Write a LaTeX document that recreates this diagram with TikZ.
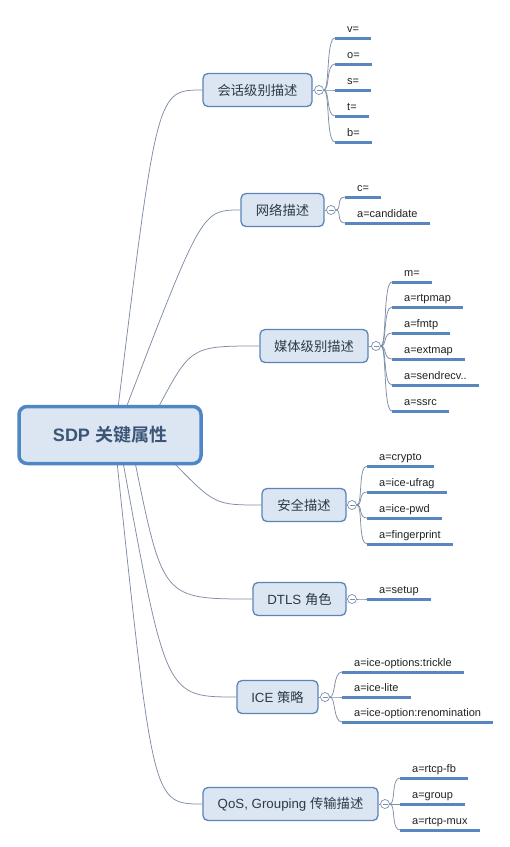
\documentclass[tikz,border=0pt]{standalone}
\usepackage{fontspec}
\setmainfont{Liberation Sans}
\newfontfamily\cjk{Noto Sans CJK SC}[BoldFont={Noto Sans CJK SC Bold}]
\usetikzlibrary{calc}
\definecolor{topicfill}{HTML}{DCE6F2}
\definecolor{topicdraw}{HTML}{5B84B8}
\definecolor{rootdraw}{HTML}{4F86C6}
\definecolor{roottext}{HTML}{3B5577}
\definecolor{topictext}{HTML}{2E3A48}
\definecolor{leaftext}{HTML}{222222}
\definecolor{leafblue}{HTML}{5A86C0}
\definecolor{conncolor}{HTML}{7F8DA5}
\definecolor{circdraw}{HTML}{7890B0}
\pgfdeclarelayer{bg}
\pgfsetlayers{bg,main}
\newcommand\mkleaf[5]{%
  \coordinate (#1s) at (#3,#4);
  \node[leaf] (#1) at (#3+12,#4-6) {#5};
  \draw[leafline] (#1s) -- (#1s -| #1.east) -- ++(12,0);
  \draw[conn] (#2.east) .. controls +(6,0) and +(-9,0) .. (#1s);
}
\begin{document}
\begin{tikzpicture}[x=1pt,y=-1pt,
  root/.style={draw=rootdraw, line width=3.5pt, fill=topicfill, rounded corners=8pt,
    minimum width=182pt, minimum height=57pt, inner sep=0pt,
    font=\fontsize{18}{22}\selectfont\bfseries, text=roottext},
  topic/.style={draw=topicdraw, line width=1.3pt, fill=topicfill, rounded corners=5pt,
    minimum height=33pt, inner sep=0pt, font=\fontsize{13.3}{16}\selectfont, text=topictext},
  collapse/.style={circle, draw=circdraw, fill=white, line width=0.7pt, minimum size=9pt, inner sep=0pt,
    path picture={\draw[circdraw, line width=0.7pt] ([xshift=-2.5pt]path picture bounding box.center) -- ([xshift=2.5pt]path picture bounding box.center);}},
  leaf/.style={anchor=base west, inner sep=0pt, font=\fontsize{11}{13}\selectfont, text=leaftext},
  leafline/.style={draw=leafblue, line width=3pt},
  conn/.style={draw=conncolor, line width=0.75pt}]
\useasboundingbox (0,0) rectangle (510,847);

\node[root] (root) at (110,435) {SDP {\cjk 关键属性}};

\node[topic, minimum width=109pt] (T1) at (257.5,90) {\cjk 会话级别描述};
\node[topic, minimum width=83pt] (T2) at (282.5,210) {\cjk 网络描述};
\node[topic, minimum width=108pt] (T3) at (314,346) {\cjk 媒体级别描述};
\node[topic, minimum width=84pt] (T4) at (304,505) {\cjk 安全描述};
\node[topic, minimum width=93pt] (T5) at (299.5,599) {DTLS {\cjk 角色}};
\node[topic, minimum width=81pt] (T6) at (277.5,697) {ICE {\cjk 策略}};
\node[topic, minimum width=175pt] (T7) at (290.5,804) {QoS, Grouping {\cjk 传输描述}};

\begin{pgfonlayer}{bg}
\fill[white] (0,0) rectangle (510,847);
\draw[conn] ($(root.center)+(8,-27)$)  .. controls (157,90)  .. (T1.west);
\draw[conn] ($(root.center)+(16,-27)$) .. controls (202,210) .. (T2.west);
\draw[conn] ($(root.center)+(48,-27)$) .. controls (191,346) .. (T3.west);
\draw[conn] ($(root.center)+(63,27)$)  .. controls (215,505) .. (T4.west);
\draw[conn] ($(root.center)+(25,27)$)  .. controls (163,599) .. (T5.west);
\draw[conn] ($(root.center)+(13,27)$)  .. controls (166,697) .. (T6.west);
\draw[conn] ($(root.center)+(7,27)$)   .. controls (153,804) .. (T7.west);
\end{pgfonlayer}

\node[collapse] (C1) at (319,90) {};
\node[collapse] (C2) at (331,210) {};
\node[collapse] (C3) at (376,346) {};
\node[collapse] (C4) at (352,505) {};
\node[collapse] (C5) at (352,599) {};
\node[collapse] (C6) at (325,697) {};
\node[collapse] (C7) at (385,804) {};
\foreach \t/\c in {T1/C1,T2/C2,T3/C3,T4/C4,T5/C5,T6/C6,T7/C7}
  \draw[conn] (\t.east) -- (\c.west);

\mkleaf{L11}{C1}{335}{38}{v=}
\mkleaf{L12}{C1}{335}{64}{o=}
\mkleaf{L13}{C1}{335}{90}{s=}
\mkleaf{L14}{C1}{335}{116}{t=}
\mkleaf{L15}{C1}{335}{142}{b=}

\mkleaf{L21}{C2}{345}{197}{c=}
\mkleaf{L22}{C2}{345}{223}{a=candidate}

\mkleaf{L31}{C3}{392}{282}{m=}
\mkleaf{L32}{C3}{392}{307}{a=rtpmap}
\mkleaf{L33}{C3}{392}{333}{a=fmtp}
\mkleaf{L34}{C3}{392}{359}{a=extmap}
\mkleaf{L35}{C3}{392}{385}{a=sendrecv..}
\mkleaf{L36}{C3}{392}{411}{a=ssrc}

\mkleaf{L41}{C4}{367}{466}{a=crypto}
\mkleaf{L42}{C4}{367}{492}{a=ice-ufrag}
\mkleaf{L43}{C4}{367}{518}{a=ice-pwd}
\mkleaf{L44}{C4}{367}{544}{a=fingerprint}

\mkleaf{L51}{C5}{367}{599}{a=setup}

\mkleaf{L61}{C6}{342}{672}{a=ice-options:trickle}
\mkleaf{L62}{C6}{342}{697}{a=ice-lite}
\mkleaf{L63}{C6}{342}{722}{a=ice-option:renomination}

\mkleaf{L71}{C7}{400}{778}{a=rtcp-fb}
\mkleaf{L72}{C7}{400}{804}{a=group}
\mkleaf{L73}{C7}{400}{830}{a=rtcp-mux}
\end{tikzpicture}
\end{document}
